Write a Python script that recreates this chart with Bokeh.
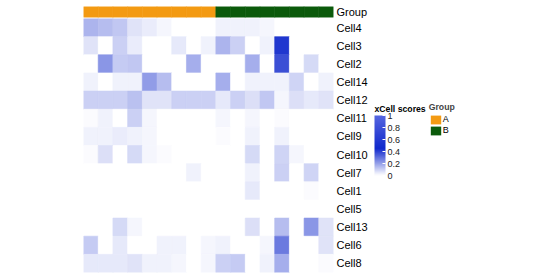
from bokeh.plotting import figure
from bokeh.models import (ColumnDataSource, LinearColorMapper, ColorBar, FixedTicker,
                          NumeralTickFormatter, Legend, LegendItem, FactorRange, Range1d, Label)
from bokeh.layouts import column, row
from bokeh.transform import transform, factor_cmap
from bokeh.embed import file_html
from bokeh.resources import INLINE

samples = ["S1", "S2", "S3", "S4", "S5", "S6", "S7", "S8", "S9",
           "S10", "S11", "S12", "S13", "S14", "S15", "S16", "S17"]
groups = ["A", "A", "A", "A", "A", "A", "A", "A", "A",
          "B", "B", "B", "B", "B", "B", "B", "B"]
rows = ["Cell4", "Cell3", "Cell2", "Cell14", "Cell12", "Cell11", "Cell9",
        "Cell10", "Cell7", "Cell1", "Cell5", "Cell13", "Cell6", "Cell8"]

cell4 = [0.16, 0.14, 0.12, 0.06, 0.04, 0.02, 0, 0, 0, 0.03, 0.03, 0.03, 0.02, 0, 0, 0, 0]
cell3 = [0.06, 0, 0.10, 0.04, 0, 0, 0.05, 0, 0.03, 0.16, 0.10, 0, 0.03, 0.42, 0, 0, 0]
cell2 = [0, 0.22, 0.11, 0.12, 0, 0, 0, 0.17, 0, 0, 0, 0.17, 0, 0.37, 0, 0.08, 0]
cell14 = [0.03, 0, 0.03, 0.03, 0.21, 0.14, 0, 0, 0, 0.17, 0, 0.03, 0.03, 0.03, 0.09, 0, 0.03]
cell12 = [0.10, 0.10, 0.10, 0.13, 0.06, 0.06, 0.10, 0.10, 0.10, 0.05, 0.10, 0.07, 0.12, 0.02, 0.07, 0.05, 0.06]
cell11 = [0.01, 0.03, 0, 0.10, 0.02, 0, 0, 0, 0, 0.02, 0, 0.02, 0, 0.01, 0, 0, 0]
cell9 = [0.03, 0.03, 0.04, 0.03, 0.02, 0, 0, 0, 0, 0.01, 0, 0.03, 0, 0.03, 0, 0, 0]
cell10 = [0.01, 0.07, 0, 0.08, 0.02, 0.01, 0, 0, 0, 0, 0, 0.08, 0, 0.09, 0.02, 0, 0]
cell7 = [0, 0, 0, 0, 0, 0, 0, 0.03, 0, 0, 0, 0.03, 0, 0.10, 0, 0.09, 0]
cell1 = [0, 0, 0, 0, 0, 0, 0, 0, 0, 0, 0, 0.05, 0, 0, 0, 0.01, 0]
cell5 = [0, 0, 0, 0, 0, 0, 0, 0, 0, 0, 0, 0, 0, 0, 0, 0, 0]
cell13 = [0, 0, 0.08, 0.02, 0, 0, 0, 0, 0, 0, 0, 0.07, 0, 0.14, 0, 0.22, 0.06]
cell6 = [0.11, 0, 0.05, 0, 0, 0.03, 0.03, 0, 0.02, 0.03, 0, 0, 0.02, 0.28, 0, 0, 0.06]
cell8 = [0.05, 0.05, 0.05, 0.06, 0.03, 0.03, 0.02, 0, 0.02, 0.10, 0.11, 0, 0.03, 0.17, 0, 0, 0.01]

values = [cell4, cell3, cell2, cell14, cell12, cell11, cell9,
          cell10, cell7, cell1, cell5, cell13, cell6, cell8]

group_names = ["A", "B"]
group_colors = ["#F39A12", "#0B5A0B"]
colorbar_ticks = [0, 0.2, 0.4, 0.6, 0.8, 1]
colorbar_title = "xCell scores"
group_title = "Group"

FONT = "Liberation Sans"


def hex2rgb(h):
    h = h.lstrip("#")
    return tuple(int(h[i:i + 2], 16) for i in (0, 2, 4))


anchors = [(0.0, "#ffffff"), (0.45, "#1028cc"), (1.0, "#5566e0")]
palette = []
for i in range(256):
    t_ = i / 255
    for (a0, c0), (a1, c1) in zip(anchors[:-1], anchors[1:]):
        if a0 <= t_ <= a1:
            f = (t_ - a0) / (a1 - a0)
            r0, g0, b0 = hex2rgb(c0)
            r1, g1, b1 = hex2rgb(c1)
            palette.append("#%02x%02x%02x" % (round(r0 + (r1 - r0) * f),
                                              round(g0 + (g1 - g0) * f),
                                              round(b0 + (b1 - b0) * f)))
            break

mapper = LinearColorMapper(palette=palette, low=0, high=1)

xs, ys, vs = [], [], []
for r, vals in zip(rows, values):
    for s, v in zip(samples, vals):
        xs.append(s)
        ys.append(r)
        vs.append(v)
src = ColumnDataSource(dict(x=xs, y=ys, v=vs))

xr = FactorRange(*samples)
LEFT = 83
RIGHT = 39
W_MAIN = 372


def style_axis(fig):
    for ax in fig.yaxis:
        ax.axis_line_color = None
        ax.major_tick_line_color = None
        ax.minor_tick_line_color = None
        ax.major_tick_out = 0
        ax.major_tick_in = 0
        ax.minor_tick_out = 0
        ax.major_label_standoff = 3
        ax.major_label_text_font = FONT
        ax.major_label_text_font_size = "11px"
        ax.major_label_text_color = "black"
    fig.xgrid.grid_line_color = None
    fig.ygrid.grid_line_color = None
    fig.outline_line_color = None


p = figure(width=W_MAIN, height=260, x_range=xr, y_range=FactorRange(*reversed(rows)),
           x_axis_location=None, y_axis_location="right", toolbar_location=None,
           output_backend="svg", min_border_left=LEFT, min_border_right=RIGHT,
           min_border_top=0, min_border_bottom=6)
p.rect(x="x", y="y", width=1, height=1, source=src,
       fill_color=transform("v", mapper), line_color=transform("v", mapper), line_width=0.6)
style_axis(p)

# group annotation
t = figure(width=W_MAIN, height=18, x_range=xr, y_range=FactorRange(group_title),
           x_axis_location=None, y_axis_location="right", toolbar_location=None,
           output_backend="svg", min_border_left=LEFT, min_border_right=RIGHT,
           min_border_top=6, min_border_bottom=1)
gsrc = ColumnDataSource(dict(x=samples, y=[group_title] * len(samples), g=groups))
t.rect(x="x", y="y", width=1, height=1, source=gsrc,
       fill_color=factor_cmap("g", group_colors, group_names),
       line_color=factor_cmap("g", group_colors, group_names), line_width=0.6)
style_axis(t)

# legend panel (pixel-like coordinates, y up from the bottom of the page)
LW = 540 - W_MAIN
lg = figure(width=LW, height=278, x_range=Range1d(0, LW),
            y_range=Range1d(0, 278), x_axis_location=None, y_axis_location=None,
            toolbar_location=None, output_backend="svg",
            min_border_left=0, min_border_right=0, min_border_top=0, min_border_bottom=0)
lg.xgrid.grid_line_color = None
lg.ygrid.grid_line_color = None
lg.outline_line_color = None

cb = ColorBar(color_mapper=mapper, ticker=FixedTicker(ticks=colorbar_ticks),
              formatter=NumeralTickFormatter(format="0.[0]"),
              width=11, height=60, location=(2, 103),
              major_label_text_font=FONT, major_label_text_font_size="9px",
              major_label_text_color="#222222", label_standoff=2,
              major_tick_line_color="white", major_tick_in=3, major_tick_out=0,
              minor_tick_line_color=None, bar_line_color=None,
              padding=0, margin=0, border_line_color=None, background_fill_alpha=0)
lg.add_layout(cb)
lg.add_layout(Label(x=2, y=278 - 108, text=colorbar_title, text_font=FONT,
                    text_font_style="bold", text_font_size="8.7px",
                    text_baseline="middle", text_color="black"))

# hidden proxy renderers carrying the group colours for the legend keys
proxy_src = ColumnDataSource(dict(g=group_names, x=[-50, -50], y=[-50, -50]))
items = []
for i, name in enumerate(group_names):
    rr = lg.rect(x="x", y="y", width=1, height=1, source=proxy_src,
                 fill_color=factor_cmap("g", group_colors, group_names), line_color=None)
    items.append(LegendItem(label=name, renderers=[rr], index=i))
leg = Legend(items=items, title=group_title, location=(56.7, 278 - 135.5),
             title_text_font=FONT, title_text_font_style="bold",
             title_text_font_size="8.7px", title_standoff=2,
             label_text_font=FONT, label_text_font_size="9px", label_text_color="black",
             label_standoff=1, glyph_width=13, glyph_height=11, label_height=11,
             spacing=0, padding=0, margin=0, border_line_color=None,
             background_fill_alpha=0)
lg.add_layout(leg)

layout = row(column(t, p, spacing=0), lg, spacing=0)
open("out.html", "w").write(file_html(layout, INLINE))
